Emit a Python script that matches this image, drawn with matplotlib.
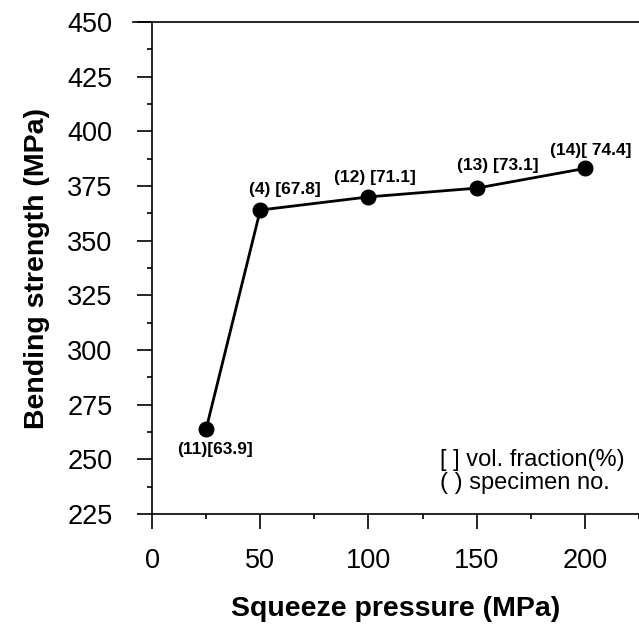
import matplotlib
matplotlib.use("Agg")
import matplotlib.pyplot as plt
from matplotlib.ticker import MultipleLocator

pressure = [25, 50, 100, 150, 200]
strength = [264, 364, 370, 374, 383]
labels = ["(11)[63.9]", "(4) [67.8]", "(12) [71.1]", "(13) [73.1]", "(14)[ 74.4]"]
label_offsets = [(9, -21), (25, 21), (6, 19), (21, 23), (6, 18)]

plt.rcParams['font.family'] = ['Liberation Sans', 'DejaVu Sans']

fig = plt.figure(figsize=(6.39, 6.24), dpi=100)
ax = fig.add_axes([0.238, 0.176, 0.762, 0.789])

ax.plot(pressure, strength, color='black', lw=2.0, marker='o', ms=10.5, zorder=3)

for x, y, t, off in zip(pressure, strength, labels, label_offsets):
    ax.annotate(t, (x, y), xytext=off, textcoords='offset pixels',
                ha='center', va='center', fontsize=12.5, fontweight='bold')

ax.set_xlim(0, 225)
ax.set_ylim(225, 450)
ax.xaxis.set_major_locator(MultipleLocator(50))
ax.xaxis.set_minor_locator(MultipleLocator(25))
ax.yaxis.set_major_locator(MultipleLocator(25))
ax.yaxis.set_minor_locator(MultipleLocator(12.5))
ax.tick_params(which='major', direction='out', length=10.5, width=1.2, labelsize=19.5)
ax.tick_params(axis='x', which='major', pad=14)
ax.tick_params(axis='y', which='major', pad=18)
ax.tick_params(which='minor', direction='out', length=3.8, width=1.2)
ax.spines['right'].set_visible(False)
for s in ['left', 'top', 'bottom']:
    ax.spines[s].set_linewidth(1.2)
ax.plot([-0.04, 0], [1, 1], transform=ax.transAxes, clip_on=False, color='black', lw=1.2)

ax.set_xlabel('Squeeze pressure (MPa)', fontsize=20.5, fontweight='bold', labelpad=16)
ax.set_ylabel('Bending strength (MPa)', fontsize=20.5, fontweight='bold', labelpad=12)

ax.text(0.592, 0.086, "[ ] vol. fraction(%)\n( ) specimen no.", transform=ax.transAxes,
        fontsize=17, ha='left', va='center', linespacing=1.05)

fig.savefig("out.png", dpi=100)
